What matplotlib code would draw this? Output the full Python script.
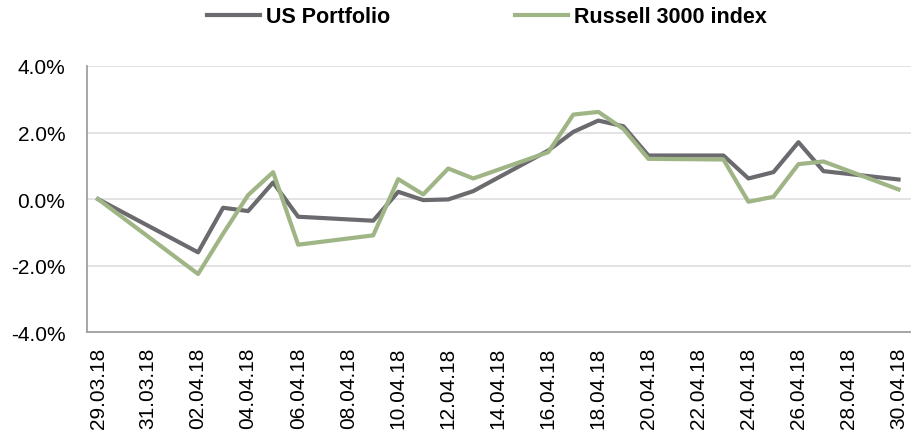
import datetime as dt
import matplotlib
matplotlib.use("Agg")
import matplotlib.pyplot as plt
import matplotlib.dates as mdates
from matplotlib.ticker import FuncFormatter

plt.rcParams['font.family'] = ['Liberation Sans', 'DejaVu Sans']

# trading days (30.03 Good Friday closed)
dates = ["29.03.18", "02.04.18", "03.04.18", "04.04.18", "05.04.18", "06.04.18",
         "09.04.18", "10.04.18", "11.04.18", "12.04.18", "13.04.18", "16.04.18",
         "17.04.18", "18.04.18", "19.04.18", "20.04.18", "23.04.18", "24.04.18",
         "25.04.18", "26.04.18", "27.04.18", "30.04.18"]

us_portfolio = [0.00, -1.60, -0.26, -0.36, 0.50, -0.53, -0.65, 0.22, -0.03, -0.01,
                0.24, 1.46, 2.02, 2.36, 2.19, 1.31, 1.31, 0.62, 0.81, 1.71, 0.84, 0.59]
russell_3000 = [0.00, -2.25, -1.04, 0.12, 0.81, -1.37, -1.09, 0.60, 0.14, 0.92,
                0.62, 1.41, 2.54, 2.62, 2.11, 1.21, 1.19, -0.08, 0.07, 1.05, 1.13, 0.29]

y_ticks = [-4.0, -2.0, 0.0, 2.0, 4.0]

x = [dt.datetime.strptime(d, "%d.%m.%y") for d in dates]

fig = plt.figure(figsize=(9.12, 4.35), dpi=100)
ax = fig.add_axes([0.0954, 0.234, 0.903, 0.612])

ax.plot(x, us_portfolio, color="#6b6a6f", lw=3.0, label="US Portfolio")
ax.plot(x, russell_3000, color="#a0b585", lw=3.0, label="Russell 3000 index")

start = x[0]
end = x[-1]
ax.set_xlim(mdates.date2num(start) - 0.44, mdates.date2num(end) + 0.48)
ax.set_ylim(-4, 4)
ax.set_yticks(y_ticks)
ax.yaxis.set_major_formatter(FuncFormatter(lambda v, p: f"{v:.1f}%"))

ticks = [start + dt.timedelta(days=i) for i in range(0, 33, 2)]
ax.set_xticks(ticks)
ax.xaxis.set_major_formatter(mdates.DateFormatter("%d.%m.%y"))
for lab in ax.get_xticklabels():
    lab.set_rotation(90)

ax.tick_params(axis="both", length=0, labelsize=15, colors="black")
ax.tick_params(axis="x", pad=10.5)
ax.tick_params(axis="y", pad=15.5)

ax.grid(axis="y", color="#e0e0e0", lw=1.3)
ax.set_axisbelow(True)
for s in ["top", "right"]:
    ax.spines[s].set_visible(False)
for s in ["left", "bottom"]:
    ax.spines[s].set_color("#a0a0a0")
    ax.spines[s].set_linewidth(1.3)

leg = fig.legend(loc="upper center", bbox_to_anchor=(0.534, 1.028), ncol=2, frameon=False,
                 prop={"weight": "bold", "size": 15.5}, handlelength=2.45, handletextpad=0.3,
                 columnspacing=5.8)
for h in leg.get_lines():
    h.set_linewidth(3.0)

fig.savefig("out.png", dpi=100)
